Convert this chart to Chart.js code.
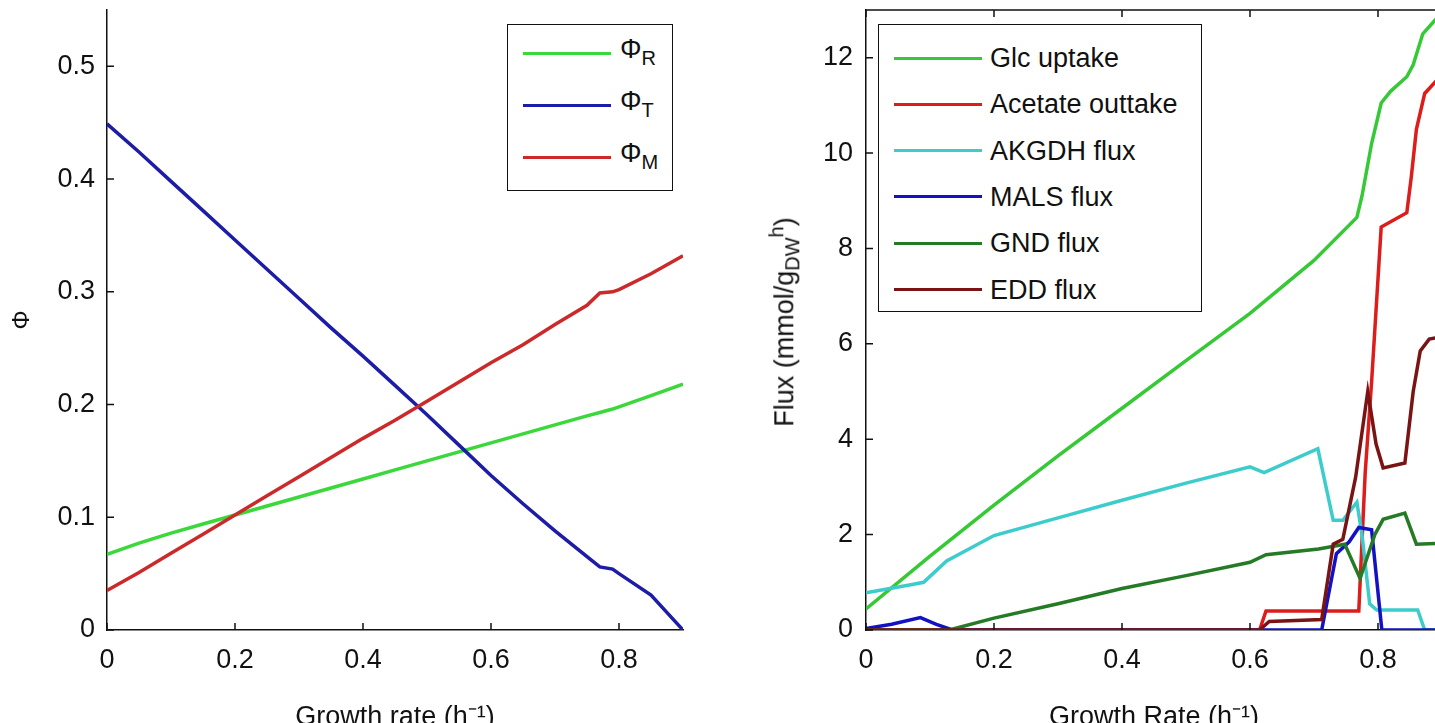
<!DOCTYPE html>
<html>
<head>
<meta charset="utf-8">
<script src="https://cdn.jsdelivr.net/npm/chart.js@4.4.1/dist/chart.umd.min.js"></script>
<style>
  body { margin: 0; width: 1435px; height: 723px; overflow: hidden; background: #fff; font-family: 'Liberation Sans', Arial, sans-serif; }
  .wrap { position: absolute; top: 0; height: 750px; }
  #leftWrap { left: 0; width: 720px; }
  #rightWrap { left: 720px; width: 760px; }
  .legend { position: absolute; background: #fff; border: 1.5px solid #111; box-sizing: border-box; }
  .legend .row { position: absolute; left: 0; height: 0; }
  .legend .swatch { position: absolute; height: 3px; margin-top: -1.5px; }
  .legend .txt { position: absolute; white-space: nowrap; transform: translateY(-50%); color: #111; font-size: 27px; line-height: 30px; }
  .legend sub { font-size: 20px; vertical-align: -7px; }
  #fluxTitle { position: absolute; left: 785px; top: 322px; transform: translate(-50%, -50%) rotate(-90deg); white-space: nowrap; font-size: 27px; color: #111; }
  #fluxTitle sub, #fluxTitle sup { font-size: 20px; }
</style>
</head>
<body>
<div class="wrap" id="leftWrap"><canvas id="leftChart"></canvas></div>
<div class="wrap" id="rightWrap"><canvas id="rightChart"></canvas></div>
<div id="fluxTitle">Flux (mmol/g<sub>DW</sub><sup>h</sup>)</div>

<script>
// ---- left panel: proteome fractions vs growth rate
var growthX = [0, 0.05, 0.1, 0.15, 0.2, 0.25, 0.3, 0.35, 0.4, 0.45, 0.5, 0.55, 0.6, 0.65, 0.7, 0.75, 0.77, 0.79, 0.8, 0.85, 0.9];
var phiR = [0.067, 0.077, 0.086, 0.094, 0.102, 0.110, 0.118, 0.126, 0.134, 0.142, 0.150, 0.158, 0.166, 0.174, 0.182, 0.190, 0.193, 0.196, 0.198, 0.208, 0.218];
var phiT = [0.449, 0.424, 0.398, 0.372, 0.346, 0.320, 0.294, 0.268, 0.243, 0.217, 0.191, 0.164, 0.137, 0.112, 0.088, 0.065, 0.056, 0.054, 0.050, 0.031, 0.0];
var phiM = [0.035, 0.051, 0.068, 0.085, 0.102, 0.119, 0.136, 0.153, 0.170, 0.186, 0.203, 0.220, 0.237, 0.253, 0.271, 0.288, 0.299, 0.300, 0.302, 0.316, 0.332];
var phiLabels = ['R', 'T', 'M'];
var phiColors = ['#3ad83a', '#1c1ca6', '#cc2a2a'];

// ---- right panel: fluxes vs growth rate
var glcX = [0, 0.1, 0.2, 0.3, 0.4, 0.5, 0.6, 0.7, 0.767, 0.775, 0.79, 0.805, 0.82, 0.845, 0.855, 0.87, 0.89, 0.9];
var glcY = [0.44, 1.55, 2.62, 3.65, 4.65, 5.65, 6.64, 7.75, 8.65, 9.1, 10.2, 11.05, 11.3, 11.6, 11.85, 12.5, 12.8, 12.85];
var aceX = [0, 0.615, 0.625, 0.77, 0.78, 0.79, 0.805, 0.845, 0.852, 0.86, 0.873, 0.89, 0.9];
var aceY = [0, 0, 0.4, 0.4, 3.3, 5.2, 8.45, 8.75, 9.5, 10.5, 11.25, 11.5, 11.6];
var akgX = [0, 0.07, 0.09, 0.126, 0.2, 0.3, 0.4, 0.5, 0.6, 0.622, 0.706, 0.73, 0.745, 0.767, 0.775, 0.787, 0.798, 0.862, 0.873, 0.9];
var akgY = [0.78, 0.95, 1.0, 1.45, 1.98, 2.35, 2.72, 3.08, 3.42, 3.3, 3.8, 2.3, 2.3, 2.68, 2.0, 0.55, 0.42, 0.42, 0, 0];
var malsX = [0, 0.04, 0.085, 0.11, 0.135, 0.712, 0.735, 0.755, 0.77, 0.79, 0.806, 0.9];
var malsY = [0.03, 0.12, 0.26, 0.12, 0, 0, 1.6, 1.85, 2.15, 2.1, 0, 0];
var gndX = [0, 0.13, 0.2, 0.3, 0.4, 0.5, 0.6, 0.625, 0.707, 0.748, 0.772, 0.795, 0.808, 0.842, 0.86, 0.9];
var gndY = [0, 0, 0.25, 0.55, 0.87, 1.14, 1.42, 1.58, 1.7, 1.8, 1.08, 2.0, 2.32, 2.45, 1.8, 1.82];
var eddX = [0, 0.615, 0.63, 0.712, 0.73, 0.745, 0.765, 0.784, 0.797, 0.808, 0.842, 0.855, 0.866, 0.88, 0.9];
var eddY = [0, 0, 0.18, 0.22, 1.8, 1.9, 3.2, 5.0, 3.9, 3.4, 3.5, 5.0, 5.85, 6.1, 6.15];
var fluxLabels = ['Glc uptake', 'Acetate outtake', 'AKGDH flux', 'MALS flux', 'GND flux', 'EDD flux'];
var fluxColors = ['#36c936', '#dd1c1c', '#3ccccc', '#1212c4', '#257a25', '#7a1414'];

var FONT = "'Liberation Sans', Arial, sans-serif";

function pts(xs, ys) {
    return xs.map(function(x, i) { return {x: x, y: ys[i]} })
}

// matlab style ticks pointing into the plot, plus optional box
var innerTicks = {
    id: 'innerTicks',
    afterDraw: function(chart, args, opts) {
        var ctx = chart.ctx, a = chart.chartArea
        var x = chart.scales.x, y = chart.scales.y
        var len = 7
        ctx.save()
        ctx.strokeStyle = '#111'
        ctx.lineWidth = 1.5
        ctx.beginPath()
        x.ticks.forEach(function(t) {
            var px = x.getPixelForValue(t.value)
            ctx.moveTo(px, a.bottom); ctx.lineTo(px, a.bottom - len)
            if (opts.box) { ctx.moveTo(px, a.top); ctx.lineTo(px, a.top + len) }
        })
        y.ticks.forEach(function(t) {
            var py = y.getPixelForValue(t.value)
            ctx.moveTo(a.left, py); ctx.lineTo(a.left + len, py)
            if (opts.box) { ctx.moveTo(a.right, py); ctx.lineTo(a.right - len, py) }
        })
        if (opts.box) {
            ctx.moveTo(a.left, a.top); ctx.lineTo(a.right, a.top); ctx.lineTo(a.right, a.bottom)
        }
        ctx.stroke()
        ctx.restore()
    }
}

function axisOpts(min, max, step, size, labelPad, title, titlePad) {
    return {
        type: 'linear', min: min, max: max,
        grid: { display: false, drawTicks: false },
        border: { display: true, color: '#111', width: 1.5 },
        ticks: {
            stepSize: step, includeBounds: false, padding: labelPad, color: '#111',
            font: { family: FONT, size: 27 },
            callback: function(v) { return String(+v.toFixed(2)) }
        },
        title: title ? { display: true, text: title, color: '#111', font: { family: FONT, size: title == 'Φ' ? 24 : 27 }, padding: titlePad } : { display: false },
        afterFit: function(s) {
            // fixed axis sizes so the plot area lands where the original has it
            if (s.isHorizontal()) { s.height = size; s.paddingLeft = 0; s.paddingRight = 0 }
            else { s.width = size; s.paddingTop = 0; s.paddingBottom = 0 }
        }
    }
}

function makeChart(id, datasets, xAxis, yAxis, padRight, box) {
    return new Chart(document.getElementById(id).getContext('2d'), {
        type: 'line',
        data: { datasets: datasets },
        options: {
            responsive: true, maintainAspectRatio: false, animation: false,
            layout: { padding: { top: 10, right: padRight, left: 0, bottom: 0 } },
            elements: { point: { radius: 0 }, line: { tension: 0, borderWidth: 3.5 } },
            plugins: { legend: { display: false }, tooltip: { enabled: false }, innerTicks: { box: box } },
            scales: { x: xAxis, y: yAxis }
        },
        plugins: [innerTicks]
    })
}

var phiData = [phiR, phiT, phiM]
makeChart('leftChart',
    phiData.map(function(ys, i) {
        return { label: 'Φ' + phiLabels[i], data: pts(growthX, ys), borderColor: phiColors[i], backgroundColor: phiColors[i], order: phiData.length - i }
    }),
    axisOpts(0, 0.9, 0.2, 120, 14, 'Growth rate (h⁻¹)', { top: 0, bottom: 16 }),
    axisOpts(0, 0.55, 0.1, 107, 12, 'Φ', { top: 8, bottom: 0 }),
    37, false)

var fluxData = [[glcX, glcY], [aceX, aceY], [akgX, akgY], [malsX, malsY], [gndX, gndY], [eddX, eddY]]
makeChart('rightChart',
    fluxData.map(function(d, i) {
        return { label: fluxLabels[i], data: pts(d[0], d[1]), borderColor: fluxColors[i], backgroundColor: fluxColors[i], order: fluxData.length - i }
    }),
    axisOpts(0, 0.9, 0.2, 120, 14, 'Growth Rate (h⁻¹)', { top: 0, bottom: 16 }),
    axisOpts(0, 13, 2, 146, 13, null, null),
    38, true)

// legends drawn as html boxes inside the plot area
function legendBox(box, rows, colors) {
    var el = document.createElement('div')
    el.className = 'legend'
    el.style.left = box.left + 'px'; el.style.top = box.top + 'px'
    el.style.width = box.width + 'px'; el.style.height = box.height + 'px'
    rows.forEach(function(html, i) {
        var r = document.createElement('div')
        r.className = 'row'
        r.style.top = (box.first + i * box.gap) + 'px'
        r.innerHTML = '<div class="swatch" style="left:15px;width:88px;background:' + colors[i] + '"></div>' +
                      '<div class="txt" style="left:' + box.textLeft + 'px">' + html + '</div>'
        el.appendChild(r)
    })
    document.body.appendChild(el)
}

legendBox({ left: 507, top: 24, width: 166, height: 167, first: 28, gap: 52, textLeft: 112 },
    phiLabels.map(function(s) { return 'Φ<sub>' + s + '</sub>' }), phiColors)
legendBox({ left: 878, top: 24, width: 324, height: 288, first: 33, gap: 46.3, textLeft: 111 },
    fluxLabels, fluxColors)
</script>
</body>
</html>
